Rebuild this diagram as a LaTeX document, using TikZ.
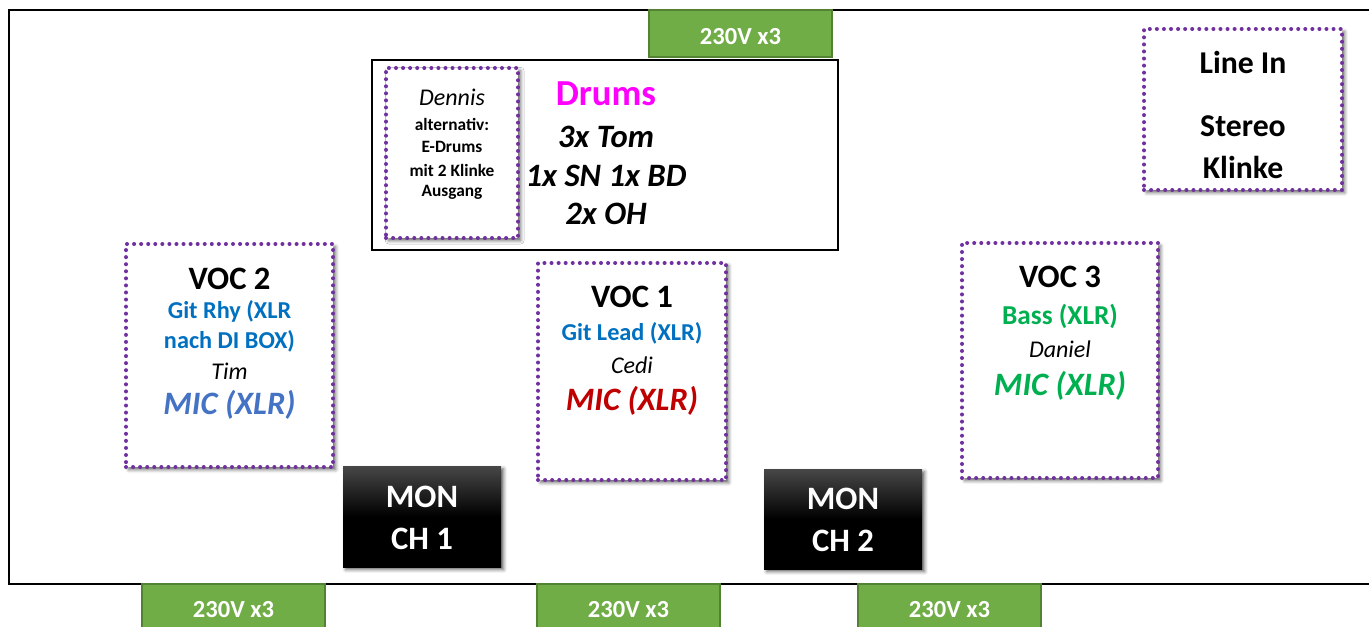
\documentclass[tikz,border=0pt]{standalone}
\usepackage{fontspec}
\setmainfont{Carlito}
\usetikzlibrary{shadows,shadows.blur}
\definecolor{dotpurple}{RGB}{112,48,160}
\definecolor{gfill}{RGB}{112,173,71}
\definecolor{gdraw}{RGB}{84,130,53}
\definecolor{xblue}{RGB}{0,112,192}
\definecolor{micblue}{RGB}{68,114,196}
\definecolor{micred}{RGB}{192,0,0}
\definecolor{xgreen}{RGB}{0,176,80}
\definecolor{xmag}{RGB}{255,0,255}
\newcommand\fsz[1]{\fontsize{#1}{#1}\selectfont}
\newcommand\rnode[6]{\node[#2, minimum width={(#5-#3)*0.75pt}, minimum height={(#6-#4)*0.75pt}, inner sep=0pt] (#1) at ({(#3+#5)/2},{(#4+#6)/2}) {};}
\tikzset{
  dotbox/.style={fill=white, draw=dotpurple, line width=3pt, dash pattern=on 0pt off 5.3pt, line cap=round,
    blur shadow={shadow xshift=2pt, shadow yshift=-2pt, shadow blur radius=2.5pt, shadow opacity=60}},
  greenbox/.style={fill=gfill, draw=gdraw, line width=2.1pt},
  monbox/.style={top color=black!72, bottom color=black, middle color=black, draw=none,
    blur shadow={shadow xshift=2pt, shadow yshift=-2pt, shadow blur radius=2.5pt, shadow opacity=60}},
  plainbox/.style={fill=white, draw=black, line width=0.9pt},
  txt/.style={inner sep=0pt, align=center},
  wtxt/.style={txt, text=white, font=\bfseries\fsz{18.4}},
}
\begin{document}
\begin{tikzpicture}[x=0.75pt,y=-0.75pt]
\useasboundingbox (0,0) rectangle (1369,626);
% stage
\rnode{stage}{draw=black, line width=1.3pt}{9}{10}{1378}{584}
% power
\rnode{ptop}{greenbox}{649}{10}{832}{57}
\node[wtxt] (ptopt) at (740.5,37) {230V x3};
\rnode{pb1}{greenbox}{142}{584}{325}{631}
\node[wtxt] (pb1t) at (233.5,610) {230V x3};
\rnode{pb2}{greenbox}{537}{584}{720}{631}
\node[wtxt] (pb2t) at (628.5,610) {230V x3};
\rnode{pb3}{greenbox}{858}{584}{1041}{631}
\node[wtxt] (pb3t) at (949.5,610) {230V x3};
% drums
\rnode{drums}{plainbox}{372}{60}{838}{250}
\rnode{dennis}{dotbox}{386}{68}{518}{238}
\node[txt, font=\itshape\fsz{18}] (den1) at (452,97) {Dennis};
\node[txt, font=\bfseries\fsz{13}] (den2) at (452,124) {alternativ:};
\node[txt, font=\bfseries\fsz{13}] (den3) at (452,147) {E-Drums};
\node[txt, font=\bfseries\fsz{13}] (den4) at (452,170) {mit 2 Klinke};
\node[txt, font=\bfseries\fsz{13}] (den5) at (452,192) {Ausgang};
\node[txt, font=\bfseries\fsz{27.5}, text=xmag] (dr1) at (606,94) {Drums};
\node[txt, font=\bfseries\itshape\fsz{24.5}] (dr2) at (606,137) {3x Tom};
\node[txt, font=\bfseries\itshape\fsz{24.5}] (dr3) at (606,176) {1x SN 1x BD};
\node[txt, font=\bfseries\itshape\fsz{24.5}] (dr4) at (606,214) {2x OH};
% line in
\rnode{linein}{dotbox}{1144}{29}{1342}{190}
\node[txt, font=\bfseries\fsz{23.8}] (li1) at (1243,62) {Line In};
\node[txt, font=\bfseries\fsz{23.8}] (li2) at (1243,126) {Stereo};
\node[txt, font=\bfseries\fsz{23.8}] (li3) at (1243,167) {Klinke};
% VOC 2
\rnode{voc2}{dotbox}{126}{244}{333}{467}
\node[txt, font=\bfseries\fsz{24.5}] (v2a) at (229.5,279) {VOC 2};
\node[txt, font=\bfseries\fsz{18.2}, text=xblue] (v2b) at (229.5,311) {Git Rhy (XLR};
\node[txt, font=\bfseries\fsz{18.2}, text=xblue] (v2c) at (229.5,341) {nach DI BOX)};
\node[txt, font=\itshape\fsz{18}] (v2d) at (229.5,371) {Tim};
\node[txt, font=\bfseries\itshape\fsz{24.5}, text=micblue] (v2e) at (229.5,405) {MIC (XLR)};
% VOC 1
\rnode{voc1}{dotbox}{538}{263}{726}{480}
\node[txt, font=\bfseries\fsz{24.5}] (v1a) at (632,297) {VOC 1};
\node[txt, font=\bfseries\fsz{18.2}, text=xblue] (v1b) at (632,333) {Git Lead (XLR)};
\node[txt, font=\itshape\fsz{18}] (v1c) at (632,365) {Cedi};
\node[txt, font=\bfseries\itshape\fsz{24.5}, text=micred] (v1d) at (632,401) {MIC (XLR)};
% VOC 3
\rnode{voc3}{dotbox}{962}{243}{1158}{478}
\node[txt, font=\bfseries\fsz{24.5}] (v3a) at (1060,277) {VOC 3};
\node[txt, font=\bfseries\fsz{20.5}, text=xgreen] (v3b) at (1060,316) {Bass (XLR)};
\node[txt, font=\itshape\fsz{18}] (v3c) at (1060,349) {Daniel};
\node[txt, font=\bfseries\itshape\fsz{24.5}, text=xgreen] (v3d) at (1060,386) {MIC (XLR)};
% monitors
\rnode{mon1}{monbox}{343}{466}{501}{567}
\node[txt, text=white, font=\bfseries\fsz{24.5}] (m1a) at (422,497) {MON};
\node[txt, text=white, font=\bfseries\fsz{24.5}] (m1b) at (422,539) {CH 1};
\rnode{mon2}{monbox}{764}{469}{922}{569}
\node[txt, text=white, font=\bfseries\fsz{24.5}] (m2a) at (843,499) {MON};
\node[txt, text=white, font=\bfseries\fsz{24.5}] (m2b) at (843,541) {CH 2};
\end{tikzpicture}
\end{document}
